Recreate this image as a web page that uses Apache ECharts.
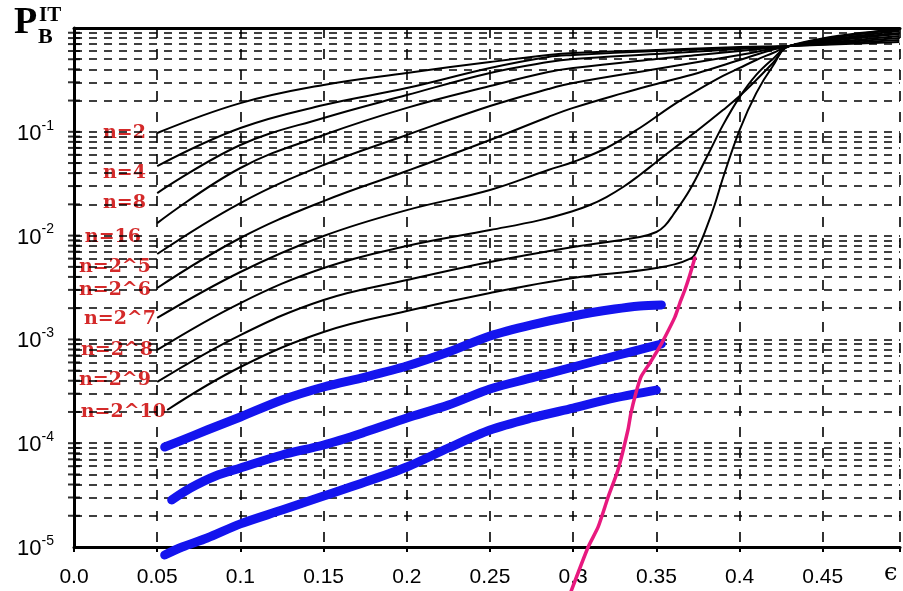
<!DOCTYPE html>
<html><head><meta charset="utf-8">
<script src="https://cdn.jsdelivr.net/npm/echarts@6/dist/echarts.min.js"></script>
<style>html,body{margin:0;padding:0;background:#fff}#c{width:903px;height:591px}</style>
</head><body><div id="c"></div>
<script>
// ---- data ----
const xTickLabels = ['0.0','0.05','0.1','0.15','0.2','0.25','0.3','0.35','0.4','0.45'];
const seriesNames = ['n=2','n=4','n=8','n=16','n=2^5','n=2^6','n=2^7','n=2^8','n=2^9','n=2^10'];

const epsLow = [0.05,0.1,0.15,0.2,0.25,0.285,0.3,0.35,0.4,0.43,0.496];
const pN2   = [0.0974,0.189,0.283,0.369,0.470,0.549,0.574,0.614,0.656,0.671,0.733];
const pN4   = [0.0468,0.1088,0.181,0.264,0.412,0.526,0.549,0.600,0.642,0.671,0.766];
const pN8   = [0.0257,0.0746,0.136,0.226,0.369,0.470,0.503,0.562,0.628,0.671,0.801];

const epsMid = [0.05,0.1,0.15,0.2,0.25,0.285,0.3,0.35,0.375,0.4,0.43,0.496];
const pN16  = [0.0132,0.0448,0.0932,0.170,0.276,0.377,0.412,0.503,0.549,0.600,0.671,0.837];
const pN32  = [6.65e-3,0.0206,0.0479,0.0932,0.177,0.258,0.295,0.403,0.470,0.549,0.671,0.876];

const epsN64 = [0.05,0.1,0.15,0.2,0.25,0.285,0.3,0.33,0.35,0.375,0.4,0.43,0.496];
const pN64   = [3.13e-3,9.48e-3,0.0215,0.0419,0.0834,0.139,0.170,0.236,0.289,0.369,0.492,0.671,0.895];
const epsN128 = [0.05,0.1,0.15,0.2,0.25,0.285,0.3,0.32,0.34,0.36,0.375,0.39,0.4,0.41,0.42,0.43,0.496];
const pN128   = [1.61e-3,4.46e-3,9.91e-3,0.0176,0.0275,0.0429,0.0512,0.0698,0.1088,0.181,0.253,0.345,0.412,0.492,0.574,0.671,0.936];
const epsN256 = [0.05,0.1,0.15,0.2,0.25,0.28,0.3,0.31,0.32,0.33,0.34,0.35,0.36,0.375,0.39,0.4,0.41,0.42,0.43,0.496];
const pN256   = [7.91e-4,2.24e-3,4.87e-3,7.94e-3,0.0113,0.0141,0.01726,0.0197,0.02354,0.02938,0.03836,0.0512,0.0683,0.104,0.162,0.221,0.316,0.460,0.671,0.957];
const epsN512 = [0.05,0.1,0.15,0.2,0.25,0.3,0.34,0.35,0.355,0.36,0.37,0.38,0.39,0.4,0.41,0.42,0.43,0.496];
const pN512   = [3.89e-4,1.10e-3,2.40e-3,3.73e-3,5.57e-3,7.77e-3,9.69e-3,0.01083,0.0124,0.0158,0.0275,0.0559,0.116,0.216,0.353,0.503,0.671,0.978];
const epsN1024 = [0.056,0.1,0.15,0.2,0.25,0.3,0.35,0.371,0.375,0.38,0.385,0.39,0.4,0.41,0.42,0.43,0.496];
const pN1024   = [2.09e-4,5.42e-4,1.18e-3,1.88e-3,2.80e-3,3.90e-3,4.87e-3,6.08e-3,7.60e-3,0.0118,0.0197,0.0359,0.104,0.236,0.430,0.671,0.975];

const epsBlue1 = [0.0545,0.065,0.08,0.1,0.125,0.15,0.175,0.2,0.225,0.25,0.275,0.3,0.325,0.34,0.353];
const pBlue1   = [9.19e-5,1.07e-4,1.34e-4,1.79e-4,2.61e-4,3.48e-4,4.34e-4,5.54e-4,7.56e-4,1.08e-3,1.38e-3,1.68e-3,1.96e-3,2.10e-3,2.15e-3];
const epsBlue2 = [0.0587,0.07,0.085,0.1,0.125,0.15,0.175,0.2,0.225,0.25,0.275,0.3,0.325,0.353];
const pBlue2   = [2.84e-5,3.70e-5,4.83e-5,5.77e-5,7.70e-5,9.61e-5,1.28e-4,1.75e-4,2.33e-4,3.33e-4,4.25e-4,5.42e-4,6.92e-4,9.03e-4];
const epsBlue3 = [0.0545,0.065,0.08,0.1,0.125,0.15,0.175,0.2,0.225,0.25,0.275,0.3,0.325,0.35];
const pBlue3   = [8.38e-6,1.00e-5,1.22e-5,1.67e-5,2.27e-5,3.10e-5,4.23e-5,5.90e-5,8.99e-5,1.34e-4,1.75e-4,2.18e-4,2.73e-4,3.25e-4];

const epsPink = [0.2988,0.309,0.315,0.321,0.3269,0.3329,0.3347,0.3377,0.3407,0.3461,0.3509,0.3551,0.3611,0.3641,0.3671,0.3701,0.3731];
const pPink   = [3.77e-6,1.00e-5,1.56e-5,3.03e-5,5.52e-5,1.34e-4,1.95e-4,3.05e-4,4.35e-4,5.93e-4,7.91e-4,1.05e-3,1.64e-3,2.24e-3,2.99e-3,4.17e-3,6.08e-3];

const gridMultipliers = [1,2,3,4,5,6,7,8,9];
const gridDecades = [-5,-4,-3,-2,-1];

// ---- build ----
const zip = (a, b) => a.map((x, i) => [x, b[i]]);
const blackCurves = [
  [epsLow, pN2],[epsLow, pN4],[epsLow, pN8],[epsMid, pN16],
  [epsMid, pN32],[epsN64, pN64],[epsN128, pN128],[epsN256, pN256],[epsN512, pN512],[epsN1024, pN1024]
];
const hLines = [];
gridDecades.forEach(d => gridMultipliers.forEach(m => {
  const v = m * Math.pow(10, d);
  if (v > 1.0000001e-5 && v < 0.99) hLines.push(v);
}));

const series = [];
series.push({
  type: 'line', name: 'grid', data: [], silent: true, z: 1,
  markLine: {
    silent: true, symbol: 'none', animation: false, precision: 12,
    label: { show: false },
    lineStyle: { color: '#000', type: [8, 7], width: 1.6, opacity: 1 },
    emphasis: { disabled: true },
    data: hLines.map(v => ({ yAxis: v }))
  }
});
series.push({
  type: 'scatter', name: 'yticks', data: hLines.map(v => [0, v]), silent: true, clip: false, z: 8,
  symbol: 'rect', symbolSize: [12, 2], itemStyle: { color: '#000' }, animation: false
});
blackCurves.forEach((c, i) => {
  series.push({
    type: 'line', name: seriesNames[i], data: zip(c[0], c[1]),
    smooth: 0.4, showSymbol: false, symbol: 'none', z: 5,
    lineStyle: { color: '#000', width: 2 }, animation: false
  });
});
[[epsBlue1, pBlue1],[epsBlue2, pBlue2],[epsBlue3, pBlue3]].forEach((c, i) => {
  series.push({
    type: 'line', name: 'blue' + (i + 1), data: zip(c[0], c[1]), clip: false,
    smooth: 0.3, showSymbol: false, symbol: 'none', z: 6,
    lineStyle: { color: '#1414ee', width: 9, cap: 'round', join: 'round' }, animation: false
  });
});
series.push({
  type: 'line', name: 'pink', data: zip(epsPink, pPink), clip: false,
  smooth: 0.2, showSymbol: false, symbol: 'none', z: 7,
  lineStyle: { color: '#e8197f', width: 3.5, cap: 'round' }, animation: false
});

const graphics = [
  { type: 'text', x: 14, y: 4, style: { text: 'P', font: 'bold 38px "Liberation Serif"', fill: '#000' } },
  { type: 'text', x: 39, y: 5, style: { text: 'IT', font: 'bold 21px "Liberation Serif"', fill: '#000' } },
  { type: 'text', x: 38, y: 26, style: { text: 'B', font: 'bold 22px "Liberation Serif"', fill: '#000' } },
  { type: 'text', x: 884, y: 562, style: { text: 'ϵ', font: '24px "DejaVu Serif"', fill: '#000' } }
];
const nLabelPos = [[146,133],[146,173],[146,203],[141,237],[151,267],[151,290],[156,319],[153,350],[151,380],[166,412]];
seriesNames.forEach((t, i) => {
  graphics.push({ type: 'text', x: nLabelPos[i][0], y: nLabelPos[i][1],
    style: { text: t, font: 'bold 19px "DejaVu Serif"', fill: '#d42a2a', align: 'right', verticalAlign: 'middle' } });
});

const chart = echarts.init(document.getElementById('c'), null, { renderer: 'canvas' });
chart.setOption({
  animation: false,
  backgroundColor: '#fff',
  grid: { left: 74, right: 0, top: 28, bottom: 44 },
  xAxis: [{
    type: 'value', min: 0, max: 0.4964, interval: 0.05,
    axisLine: { show: true, lineStyle: { color: '#000', width: 3 } },
    axisTick: { show: true, length: 5, lineStyle: { color: '#000', width: 2 } },
    axisLabel: {
      margin: 20, color: '#000', fontSize: 21, fontFamily: 'Liberation Sans',
      formatter: v => { const i = Math.round(v / 0.05); return Math.abs(v - i * 0.05) < 1e-6 && xTickLabels[i] ? xTickLabels[i] : ''; }
    },
    splitLine: { show: true, lineStyle: { color: '#000', type: [10, 11], width: 1.6 } }
  }, {
    type: 'value', position: 'top', min: 0, max: 0.4964,
    axisLine: { show: true, onZero: false, lineStyle: { color: '#000', width: 3 } },
    axisTick: { show: false }, axisLabel: { show: false }, splitLine: { show: false }
  }],
  yAxis: {
    type: 'log', logBase: 10, min: 1e-5, max: 1,
    axisLine: { show: true, lineStyle: { color: '#000', width: 3 } },
    axisTick: { show: false },
    splitLine: { show: false },
    axisLabel: {
      margin: 20, color: '#000',
      formatter: v => { const e = Math.round(Math.log10(v)); return e === 0 ? '' : '{b|10}{s|' + e + '}'; },
      rich: {
        b: { fontSize: 22, fontFamily: 'Liberation Sans', color: '#000', verticalAlign: 'bottom', lineHeight: 26 },
        s: { fontSize: 14, fontFamily: 'Liberation Sans', color: '#000', verticalAlign: 'top', lineHeight: 26 }
      }
    }
  },
  graphic: graphics,
  series: series
});
</script></body></html>
